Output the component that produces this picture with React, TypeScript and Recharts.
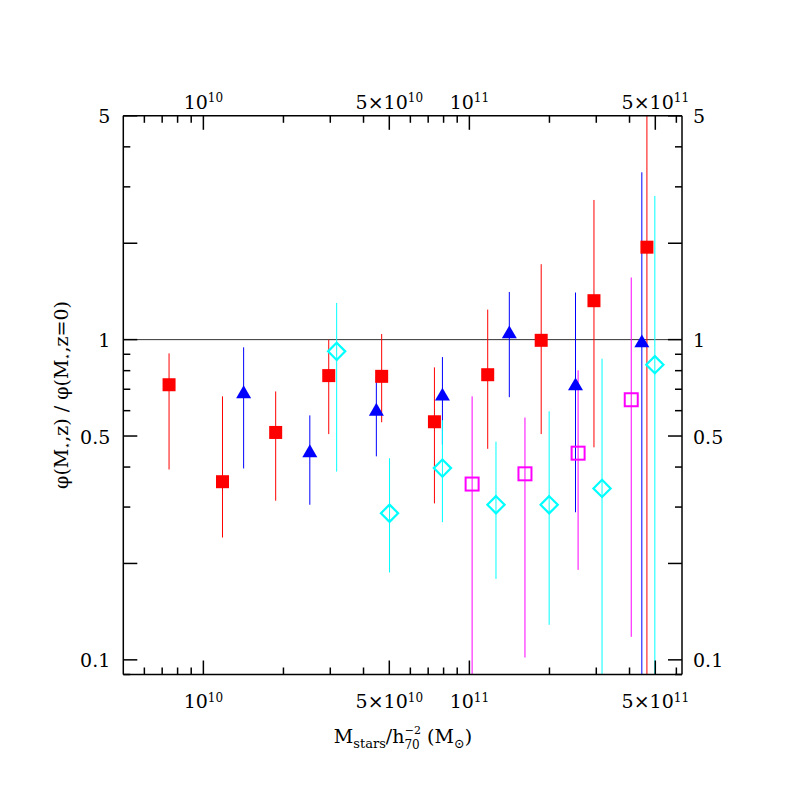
import React from "react";
import { ScatterChart, Scatter, XAxis, YAxis, ErrorBar, ReferenceLine } from "recharts";

const W = 780;
const H = 780;
const FONT = "'DejaVu Serif', serif";

// stellar mass bins (Msun) and phi(M,z)/phi(M,z=0) with error bar ends
const RED_X = [7.43e9, 1.18e10, 1.87e10, 2.96e10, 4.68e10, 7.39e10, 1.172e11, 1.862e11, 2.94e11, 4.65e11];
const RED_Y = [0.723, 0.36, 0.513, 0.772, 0.768, 0.554, 0.777, 0.995, 1.323, 1.944];
const RED_LO = [0.393, 0.241, 0.314, 0.507, 0.552, 0.308, 0.456, 0.507, 0.461, 0.09];
const RED_HI = [0.906, 0.665, 0.689, 1.0, 1.041, 0.819, 1.241, 1.72, 2.73, 5];

const BLUE_X = [1.417e10, 2.513e10, 4.47e10, 7.92e10, 1.413e11, 2.506e11, 4.45e11];
const BLUE_Y = [0.677, 0.443, 0.597, 0.666, 1.042, 0.717, 0.976];
const BLUE_LO = [0.396, 0.305, 0.432, 0.47, 0.661, 0.289, 0.09];
const BLUE_HI = [0.946, 0.58, 0.768, 0.882, 1.409, 1.403, 3.33];

const CYAN_X = [3.17e10, 5.01e10, 7.92e10, 1.259e11, 1.995e11, 3.153e11, 4.98e11];
const CYAN_Y = [0.919, 0.287, 0.397, 0.305, 0.305, 0.343, 0.835];
const CYAN_LO = [0.387, 0.1875, 0.269, 0.179, 0.1287, 0.09, 0.09];
const CYAN_HI = [1.302, 0.426, 0.56, 0.48, 0.597, 0.872, 2.81];

const MAG_X = [1.024e11, 1.618e11, 2.563e11, 4.06e11];
const MAG_Y = [0.354, 0.381, 0.442, 0.649];
const MAG_LO = [0.09, 0.1017, 0.191, 0.118];
const MAG_HI = [0.665, 0.571, 0.802, 1.563];

// axes
const X_DOMAIN = [5e9, 6.3e11];
const Y_DOMAIN = [0.09, 5];
const X_TICKS = [6e9, 7e9, 8e9, 9e9, 1e10, 2e10, 3e10, 4e10, 5e10, 6e10, 7e10, 8e10, 9e10, 1e11, 2e11, 3e11, 4e11, 5e11, 6e11];
const X_MAJOR = [1e10, 5e10, 1e11, 5e11];
const X_LABEL_TICKS = [1e10, 5e10, 1e11, 5e11];
const X_LABEL_MANT = ["", "5×", "", "5×"];
const X_LABEL_EXP = ["10", "10", "11", "11"];
const Y_TICKS = [0.09, 0.1, 0.2, 0.3, 0.4, 0.5, 0.6, 0.7, 0.8, 0.9, 1, 2, 3, 4, 5];
const Y_MAJOR = [0.1, 0.2, 0.5, 1, 2, 5];
const Y_LABEL_TICKS = [0.1, 0.5, 1, 5];
const Y_LABEL_TEXT = ["0.1", "0.5", "1", "5"];

function build(xs: number[], ys: number[], lo: number[], hi: number[]) {
  return xs.map((x, i) => ({ x, y: ys[i], err: [ys[i] - lo[i], hi[i] - ys[i]] }));
}

const redData = build(RED_X, RED_Y, RED_LO, RED_HI);
const blueData = build(BLUE_X, BLUE_Y, BLUE_LO, BLUE_HI);
const cyanData = build(CYAN_X, CYAN_Y, CYAN_LO, CYAN_HI);
const magData = build(MAG_X, MAG_Y, MAG_LO, MAG_HI);

const FilledSquare = (p: any) => (
  <rect x={p.cx - 6.5} y={p.cy - 6.5} width={13} height={13} fill="#ff0000" />
);
const FilledTriangle = (p: any) => (
  <path d={`M${p.cx},${p.cy - 8.5}L${p.cx + 7.5},${p.cy + 4.3}L${p.cx - 7.5},${p.cy + 4.3}Z`} fill="#0000ff" />
);
const OpenDiamond = (p: any) => (
  <path
    d={`M${p.cx},${p.cy - 8.6}L${p.cx + 8.6},${p.cy}L${p.cx},${p.cy + 8.6}L${p.cx - 8.6},${p.cy}Z`}
    fill="none" stroke="#00ffff" strokeWidth={2.2}
  />
);
const OpenSquare = (p: any) => (
  <rect x={p.cx - 6.5} y={p.cy - 6.5} width={13} height={13} fill="none" stroke="#ff00ff" strokeWidth={2} />
);

function xTick(side: "top" | "bottom") {
  return (p: any) => {
    const v = p.payload.value;
    const len = X_MAJOR.includes(v) ? 14 : 7;
    const dir = side === "bottom" ? -1 : 1;
    const i = X_LABEL_TICKS.indexOf(v);
    return (
      <g>
        <line x1={p.x} x2={p.x} y1={p.y} y2={p.y + dir * len} stroke="#000" strokeWidth={1.5} />
        {i >= 0 && (
          <text x={p.x} y={side === "bottom" ? p.y + 33.5 : p.y - 7} textAnchor="middle"
            fontFamily={FONT} fontSize={19} fill="#000">
            {X_LABEL_MANT[i]}10<tspan fontSize={12} dy={-6.5}>{X_LABEL_EXP[i]}</tspan>
          </text>
        )}
      </g>
    );
  };
}

function yTick(side: "left" | "right") {
  return (p: any) => {
    const v = p.payload.value;
    const len = Y_MAJOR.includes(v) ? 14 : 7;
    const dir = side === "left" ? 1 : -1;
    const i = Y_LABEL_TICKS.indexOf(v);
    return (
      <g>
        <line x1={p.x} x2={p.x + dir * len} y1={p.y} y2={p.y} stroke="#000" strokeWidth={1.5} />
        {i >= 0 && (
          <text x={side === "left" ? p.x - 13 : p.x + 11} y={p.y + 7.5}
            textAnchor={side === "left" ? "end" : "start"} fontFamily={FONT} fontSize={19} fill="#000">
            {Y_LABEL_TEXT[i]}
          </text>
        )}
      </g>
    );
  };
}

const axisLine = { stroke: "#000", strokeWidth: 1.5 };

export default function App() {
  return (
    <div style={{ position: "relative", width: W, height: H }}>
      <ScatterChart width={W} height={H} margin={{ top: 57.8, right: 46, bottom: 53.5, left: 55.3 }}>
        <XAxis xAxisId="b" orientation="bottom" dataKey="x" type="number" scale="log" domain={X_DOMAIN}
          ticks={X_TICKS} interval={0} allowDataOverflow height={60} tickSize={0} tickMargin={0}
          tickLine={false} axisLine={axisLine} tick={xTick("bottom")} />
        <XAxis xAxisId="t" orientation="top" dataKey="x" type="number" scale="log" domain={X_DOMAIN}
          ticks={X_TICKS} interval={0} allowDataOverflow height={50} tickSize={0} tickMargin={0}
          tickLine={false} axisLine={axisLine} tick={xTick("top")} />
        <YAxis yAxisId="l" orientation="left" dataKey="y" type="number" scale="log" domain={Y_DOMAIN}
          ticks={Y_TICKS} interval={0} allowDataOverflow width={60} tickSize={0} tickMargin={0}
          tickLine={false} axisLine={axisLine} tick={yTick("left")} />
        <YAxis yAxisId="r" orientation="right" dataKey="y" type="number" scale="log" domain={Y_DOMAIN}
          ticks={Y_TICKS} interval={0} allowDataOverflow width={60} tickSize={0} tickMargin={0}
          tickLine={false} axisLine={axisLine} tick={yTick("right")} />
        <ReferenceLine xAxisId="b" yAxisId="l" y={1} stroke="#333" strokeWidth={1} />
        <Scatter xAxisId="b" yAxisId="l" data={redData} shape={FilledSquare} isAnimationActive={false}>
          <ErrorBar dataKey="err" direction="y" width={0} stroke="#ff0000" strokeWidth={1} isAnimationActive={false} />
        </Scatter>
        <Scatter xAxisId="b" yAxisId="l" data={blueData} shape={FilledTriangle} isAnimationActive={false}>
          <ErrorBar dataKey="err" direction="y" width={0} stroke="#0000ff" strokeWidth={1} isAnimationActive={false} />
        </Scatter>
        <Scatter xAxisId="b" yAxisId="l" data={cyanData} shape={OpenDiamond} isAnimationActive={false}>
          <ErrorBar dataKey="err" direction="y" width={0} stroke="#00ffff" strokeWidth={1} isAnimationActive={false} />
        </Scatter>
        <Scatter xAxisId="b" yAxisId="l" data={magData} shape={OpenSquare} isAnimationActive={false}>
          <ErrorBar dataKey="err" direction="y" width={0} stroke="#ff00ff" strokeWidth={1} isAnimationActive={false} />
        </Scatter>
      </ScatterChart>
      <svg width={W} height={H} style={{ position: "absolute", left: 0, top: 0, pointerEvents: "none" }}>
        <text x={395} y={734.6} textAnchor="middle" fontFamily={FONT} fontSize={19} fill="#000">
          M<tspan fontSize={13} dy={5.5}>stars</tspan>
          <tspan dy={-5.5}>/h</tspan>
          <tspan fontSize={12} dy={6}>70</tspan>
          <tspan fontSize={11} dx={-15} dy={-15}>−2</tspan>
          <tspan dy={9}> (M</tspan>
          <tspan fontSize={13} dy={5.5}>⊙</tspan>
          <tspan dy={-5.5}>)</tspan>
        </text>
        <text x={60} y={387} transform="rotate(-90, 60, 387)" textAnchor="middle" fontFamily={FONT}
          fontSize={19} fill="#000">
          φ(M<tspan fontSize={11} dy={3}>⋆</tspan>
          <tspan dy={-3}>,z) / φ(M</tspan>
          <tspan fontSize={11} dy={3}>⋆</tspan>
          <tspan dy={-3}>,z=0)</tspan>
        </text>
      </svg>
    </div>
  );
}
